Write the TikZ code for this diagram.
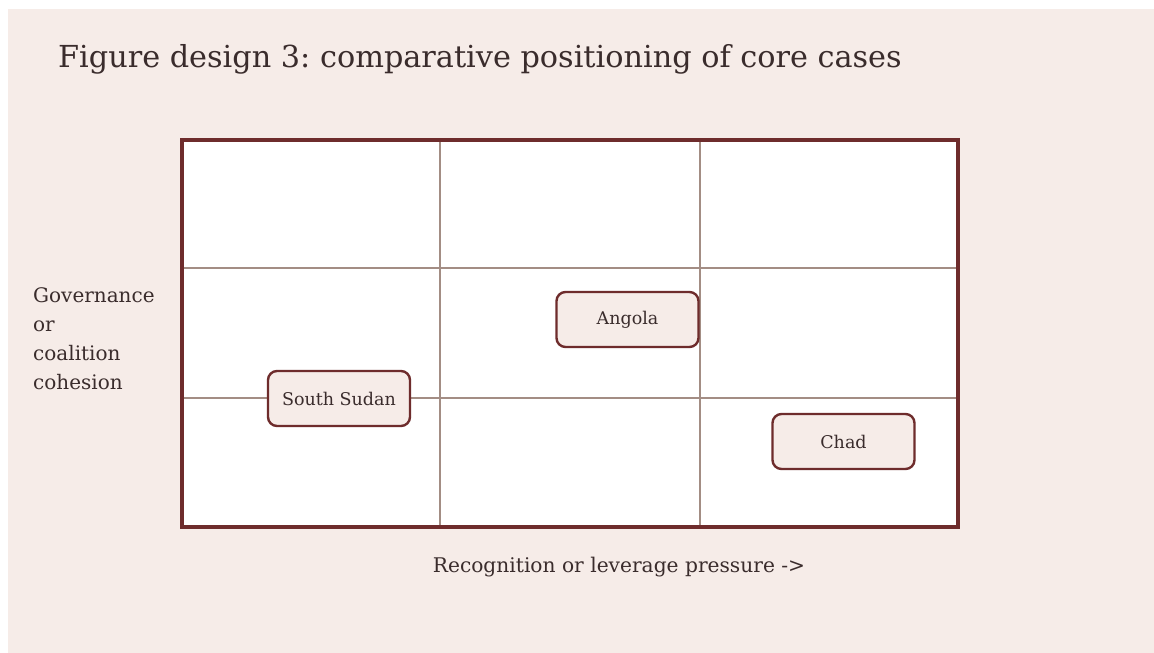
\documentclass[tikz,border=0pt]{standalone}
\usepackage{fontspec}
\setmainfont{DejaVu Serif}
\frenchspacing
\definecolor{paper}{HTML}{F6ECE8}
\definecolor{wine}{HTML}{6E2C2C}
\definecolor{rule}{HTML}{A38D84}
\definecolor{ink}{HTML}{3A2C2C}
\def\bw{142pt}
\def\bh{55pt}

\begin{document}
\begin{tikzpicture}[x=1pt,y=-1pt,
  case/.style={draw=wine,line width=2.4pt,fill=paper,rounded corners=9pt,
    minimum width=\bw,minimum height=\bh,inner sep=0pt,text=ink,font=\fontsize{17.5}{20}\selectfont},
  gridline/.style={draw=rule,line width=1.8pt},
  lbl/.style={text=ink,inner sep=0pt}]
\useasboundingbox (0,0) rectangle (1154,653);
\fill[paper] (8,9) rectangle (1154,653);
\coordinate (NW) at (182,140);
\coordinate (SE) at (958,527);

\fill[white] (NW) rectangle (SE);
\foreach \x in {440,700}{
	\draw[gridline] (\x,140) -- (\x,527);
}
\foreach \y in {268,398}{
	\draw[gridline] (182,\y) -- (958,\y);
}
\draw[wine,line width=3.5pt] (NW) rectangle (SE);

\node[lbl,anchor=base west,font=\fontsize{30.3}{36}\selectfont] (title) at (58,67) {Figure design 3: comparative positioning of core cases};
\node[lbl,anchor=base west,align=left,font=\fontsize{20}{29}\selectfont] (ylab) at (33,389) {Governance\\or\\coalition\\cohesion};
\node[lbl,anchor=base,font=\fontsize{20.2}{24}\selectfont] (xlab) at (619,572) {Recognition or leverage pressure ->};

\node[case] (ssudan) at (339,398.5) {South Sudan};
\node[case] (angola) at (627.5,319.5) {Angola};
\node[case] (chad) at (843.5,441.5) {Chad};
\end{tikzpicture}
\end{document}
